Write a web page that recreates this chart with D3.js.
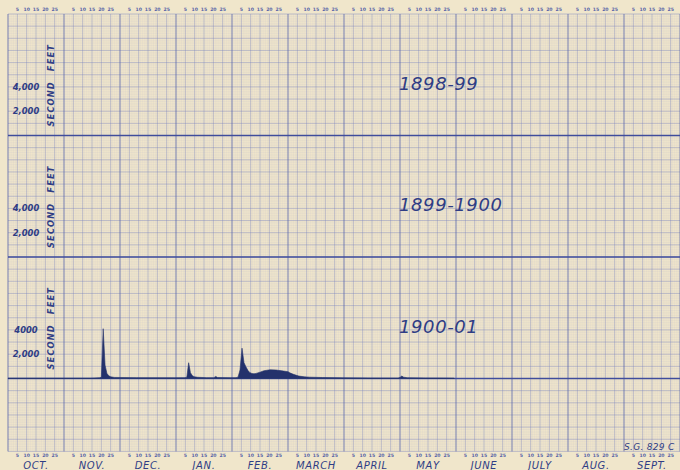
<!DOCTYPE html>
<html>
<head>
<meta charset="utf-8">
<script src="https://cdn.jsdelivr.net/npm/d3@7"></script>
<style>
  html, body { margin: 0; padding: 0; background: #f0e6cb; }
  svg { display: block; }
</style>
</head>
<body>
<svg id="chart" width="680" height="470"></svg>
<script>
// Water-year months, October through September
const months = ["OCT.", "NOV.", "DEC.", "JAN.", "FEB.", "MARCH", "APRIL", "MAY", "JUNE", "JULY", "AUG.", "SEPT."];
const monthDays = [31, 30, 31, 31, 28, 31, 30, 31, 30, 31, 31, 30];
const dayTicks = [5, 10, 15, 20, 25];

// One panel per water year, top to bottom
const waterYears = ["1898-99", "1899-1900", "1900-01"];
const flowTicks = [2000, 4000];
const flowTickLabels = [["2,000", "4,000"], ["2,000", "4,000"], ["2,000", "4000"]];

// Daily discharge, 1900-01 (second-feet): month index from October, day of month, value
const flowMonth = [0, 0, 1, 1, 1, 1, 1, 1, 1, 1, 1, 2, 2,
  3, 3, 3, 3, 3, 3, 3, 3, 3, 3, 3, 3,
  4, 4, 4, 4, 4, 4, 4, 4, 4, 4, 4, 4, 4, 4, 4, 4,
  5, 5, 5, 5, 5, 5, 5, 5,
  6, 6,
  7, 7, 7, 7, 7, 7, 7];
const flowDay = [1, 31, 15, 20, 21, 22, 23, 24, 25, 26, 28, 10, 31,
  6, 7, 8, 9, 10, 11, 13, 18, 22, 23, 24, 31,
  3, 4, 5, 6, 7, 8, 9, 10, 11, 12, 13, 15, 17, 20, 23, 26,
  1, 2, 4, 7, 10, 13, 20, 31,
  15, 30,
  1, 2, 3, 5, 15, 25, 31];
const flowCfs = [30, 30, 30, 60, 100, 4100, 1100, 420, 220, 140, 90, 70, 60,
  70, 110, 1300, 480, 240, 150, 100, 70, 70, 170, 80, 70,
  70, 110, 700, 2500, 1300, 950, 650, 480, 410, 390, 420, 520, 640, 720, 700, 630,
  560, 470, 340, 200, 140, 110, 80, 60,
  45, 40,
  90, 200, 110, 60, 45, 40, 30];

const svg = d3.select("#chart");
const W = 680, H = 470;

// Horizontal layout: twelve equal month columns
const x = d3.scaleLinear().domain([0, 12]).range([8, 680]);
const dateX = (m, d) => x(m + (d - 1) / monthDays[m]);

// Vertical layout in thousands of second-feet; 0 is the bottom panel's base
const grid = d3.scaleLinear().domain([-6, 30]).range([451.4, 14]);
const panelBase = [20, 10, 0];
const panelY = i => d3.scaleLinear()
  .domain([0, 10000])
  .range([grid(panelBase[i]), grid(panelBase[i] + 10)]);

const ink = "#2f3d85";
const gTop = grid(30), gBottom = grid(-6);

// Graph-paper ruling
const ruling = svg.append("g");

// fine rulings: daily columns and 200 second-feet rows
const fineCols = d3.range(0, 12 * 30).map(k => x(k / 30));
ruling.selectAll("line.fv").data(fineCols).join("line")
  .attr("x1", d => d).attr("x2", d => d)
  .attr("y1", gTop).attr("y2", gBottom)
  .attr("stroke", "#98a1cc").attr("stroke-opacity", 0.17).attr("stroke-width", 0.5);
const fineRows = d3.range(-6 * 5, 30 * 5 + 1).map(k => grid(k / 5));
ruling.selectAll("line.fh").data(fineRows).join("line")
  .attr("x1", x(0)).attr("x2", W)
  .attr("y1", d => d).attr("y2", d => d)
  .attr("stroke", "#98a1cc").attr("stroke-opacity", 0.17).attr("stroke-width", 0.5);

// medium rulings: five-day columns and 1,000 second-feet rows
const midCols = d3.range(0, 12 * 6).filter(k => k % 6 !== 0).map(k => x(k / 6));
ruling.selectAll("line.mv").data(midCols).join("line")
  .attr("x1", d => d).attr("x2", d => d)
  .attr("y1", gTop).attr("y2", gBottom)
  .attr("stroke", "#7580bc").attr("stroke-opacity", 0.55).attr("stroke-width", 0.7);
const midRows = d3.range(-6, 31).map(k => grid(k));
ruling.selectAll("line.mh").data(midRows).join("line")
  .attr("x1", x(0)).attr("x2", W)
  .attr("y1", d => d).attr("y2", d => d)
  .attr("stroke", "#7580bc").attr("stroke-opacity", 0.55).attr("stroke-width", 0.7);

// heavy rulings: month boundaries and panel bases
ruling.selectAll("line.hv").data(d3.range(0, 13)).join("line")
  .attr("x1", d => x(d)).attr("x2", d => x(d))
  .attr("y1", gTop).attr("y2", gBottom)
  .attr("stroke", "#5562aa").attr("stroke-opacity", 0.85).attr("stroke-width", 0.9);
ruling.selectAll("line.hh").data(panelBase).join("line")
  .attr("x1", x(0)).attr("x2", W)
  .attr("y1", d => grid(d)).attr("y2", d => grid(d))
  .attr("stroke", "#3f4c9c").attr("stroke-width", 1.3);

// Day numbers along the top and bottom edges
const dayLabels = [];
months.forEach((m, i) => dayTicks.forEach(d => dayLabels.push({ m: i, d })));
[gTop - 3.5, gBottom + 5.5].forEach(yy => {
  svg.append("g").selectAll("text").data(dayLabels).join("text")
    .attr("x", d => x(d.m + d.d / 30))
    .attr("y", yy)
    .attr("text-anchor", "middle")
    .attr("font-family", "DejaVu Sans, sans-serif")
    .attr("font-size", 4.6)
    .attr("font-weight", "bold")
    .attr("fill", "#5865a8")
    .text(d => d.d);
});

// Month names
svg.append("g").selectAll("text").data(months).join("text")
  .attr("x", (d, i) => x(i + 0.5))
  .attr("y", 468.5)
  .attr("text-anchor", "middle")
  .attr("font-family", "DejaVu Sans, sans-serif")
  .attr("font-style", "italic")
  .attr("font-size", 10)
  .attr("fill", ink)
  .attr("letter-spacing", 0.6)
  .text(d => d);

// Panel labels: discharge ticks, unit caption and water year
waterYears.forEach((yr, i) => {
  const y = panelY(i);
  const p = svg.append("g");
  p.selectAll("text.tick").data(flowTicks).join("text")
    .attr("class", "tick")
    .attr("x", 26)
    .attr("y", d => y(d) + 3)
    .attr("text-anchor", "middle")
    .attr("font-family", "DejaVu Sans, sans-serif")
    .attr("font-style", "italic")
    .attr("font-weight", 600)
    .attr("font-size", 8.4)
    .attr("fill", ink)
    .text((d, k) => flowTickLabels[i][k]);
  p.append("text")
    .attr("transform", `translate(54,${y(0) - 9}) rotate(-90)`)
    .attr("font-family", "DejaVu Sans, sans-serif")
    .attr("font-style", "italic")
    .attr("font-weight", 600)
    .attr("font-size", 8.2)
    .attr("letter-spacing", 1.2)
    .attr("word-spacing", 6)
    .attr("fill", ink)
    .text("SECOND FEET");
  p.append("text")
    .attr("x", 399)
    .attr("y", y(0) - 46)
    .attr("font-family", "DejaVu Sans, sans-serif")
    .attr("font-style", "italic")
    .attr("font-weight", 300)
    .attr("font-size", 18)
    .attr("letter-spacing", 0.6)
    .attr("fill", ink)
    .text(yr);
});

// 1900-01 hydrograph
const flow = flowCfs.map((v, k) => ({ m: flowMonth[k], d: flowDay[k], v }));
const y3 = panelY(2);
svg.append("path")
  .datum(flow)
  .attr("fill", "#24326c")
  .attr("stroke", "#24326c")
  .attr("stroke-width", 0.6)
  .attr("d", d3.area()
    .x(p => dateX(p.m, p.d))
    .y0(y3(0))
    .y1(p => y3(p.v)));

// Sheet number
svg.append("text")
  .attr("x", 624)
  .attr("y", 450)
  .attr("font-family", "DejaVu Sans, sans-serif")
  .attr("font-style", "italic")
  .attr("font-size", 9)
  .attr("letter-spacing", 0.3)
  .attr("fill", ink)
  .text("S.G. 829 C");
</script>
</body>
</html>
